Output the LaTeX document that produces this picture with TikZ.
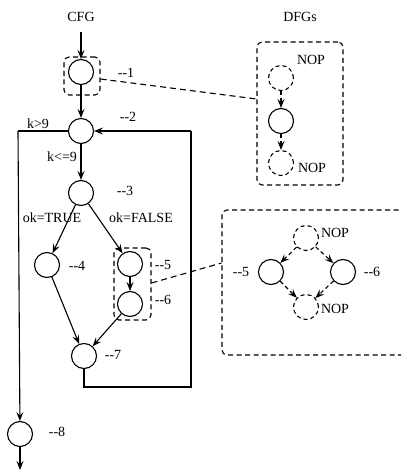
\documentclass[tikz,border=0pt]{standalone}
\usepackage{fontspec}
\setmainfont{Liberation Serif}
\usetikzlibrary{arrows.meta}
\begin{document}
\begin{tikzpicture}[x=1pt,y=-1pt,
  every node/.style={font=\fontsize{14}{16}\selectfont},
  nd/.style={circle,draw,line width=1.1pt,minimum size=25pt,inner sep=0pt},
  dnd/.style={nd,dash pattern=on 4pt off 3pt},
  lbl/.style={inner sep=1pt},
  arr/.style={-{Stealth[length=9pt,width=7pt,inset=3.5pt]},line width=1.1pt},
  darr/.style={arr,dash pattern=on 4pt off 3pt},
  dbox/.style={draw,line width=1.1pt,dash pattern=on 5pt off 3.5pt,rounded corners=5pt},
  dline/.style={line width=1.1pt,dash pattern=on 6pt off 4pt}]
\useasboundingbox (0,0) rectangle (401,470);
\clip (0,0) rectangle (401,470);
% titles
\node (cfg) at (81,17) {CFG};
\node (dfgs) at (300,17) {DFGs};
% CFG nodes
\node[nd] (n1) at (81,72) {};
\node[nd] (n2) at (81,131) {};
\node[nd] (n3) at (81,193) {};
\node[nd] (n4) at (47,265) {};
\node[nd] (n5) at (130,264) {};
\node[nd] (n6) at (130,304) {};
\node[nd] (n7) at (84,356) {};
\node[nd] (n8) at (20,434) {};
\coordinate (top) at (81,32);
\coordinate (bot) at (20,470);
\coordinate (lc) at (18,131);
\coordinate (rc1) at (84,387);
\coordinate (rc2) at (191,387);
\coordinate (rc3) at (191,131);
% labels
\node[lbl] (l1) at (126,73) {-{}-1};
\node[lbl] (l2) at (128,117) {-{}-2};
\node[lbl] (l3) at (125,191) {-{}-3};
\node[lbl] (l4) at (77,266) {-{}-4};
\node[lbl] (l5) at (163,265) {-{}-5};
\node[lbl] (l6) at (163,300) {-{}-6};
\node[lbl] (l7) at (113,355) {-{}-7};
\node[lbl] (l8) at (57,432) {-{}-8};
\node[lbl] (kg) at (38,124) {k>9};
\node[lbl] (kl) at (62,157) {k<=9};
\node[lbl] (okt) at (52,218) {ok=TRUE};
\node[lbl] (okf) at (141,218) {ok=FALSE};
% dashed boxes in CFG
\node[dbox,minimum width=36pt,minimum height=38pt] (b1) at (82,76) {};
\node[dbox,minimum width=37pt,minimum height=72pt] (b56) at (132.5,284) {};
% CFG edges
\draw[arr] (top) -- (n1);
\draw[arr] (n1) -- (n2);
\draw[arr] (n2) -- (n3);
\draw[arr] (n3) -- (n4);
\draw[arr] (n3) -- (n5);
\draw[arr] (n5) -- (n6);
\draw[arr] (n4) -- (n7);
\draw[arr] (n6) -- (n7);
\draw[line width=1.1pt] (n7) -- (rc1) -- (rc2) -- (rc3);
\draw[arr] (rc3) -- (n2);
\draw[line width=1.1pt] (n2) -- (lc);
\draw[arr] (lc) -- (n8);
\draw[arr] (n8) -- (bot);
% DFG 1
\node[dbox,minimum width=86pt,minimum height=143pt] (d1) at (300,113.5) {};
\node[dnd] (d1a) at (281,78) {};
\node[nd] (d1b) at (281,121) {};
\node[dnd] (d1c) at (281,163) {};
\node[lbl] (nop1) at (311,60) {NOP};
\node[lbl] (nop2) at (312,168) {NOP};
\draw[darr] (d1a) -- (d1b);
\draw[darr] (d1b) -- (d1c);
% DFG 2
\node[dbox,minimum width=190pt,minimum height=145pt] (d2) at (317,282.5) {};
\node[dnd] (d2a) at (306,238) {};
\node[nd] (d2b) at (271,272) {};
\node[nd] (d2c) at (343,272) {};
\node[dnd] (d2d) at (306,307) {};
\node[lbl] (nop3) at (335,233) {NOP};
\node[lbl] (nop4) at (335,309) {NOP};
\node[lbl] (m5) at (241,272) {-{}-5};
\node[lbl] (m6) at (372,272) {-{}-6};
\draw[darr] (d2a) -- (d2b);
\draw[darr] (d2a) -- (d2c);
\draw[darr] (d2b) -- (d2d);
\draw[darr] (d2c) -- (d2d);
% links
\draw[dline] (b1.east |- 0,79) -- (d1.west |- 0,99);
\draw[dline] (b56.east |- 0,283) -- (d2.west |- 0,263);
\end{tikzpicture}
\end{document}
